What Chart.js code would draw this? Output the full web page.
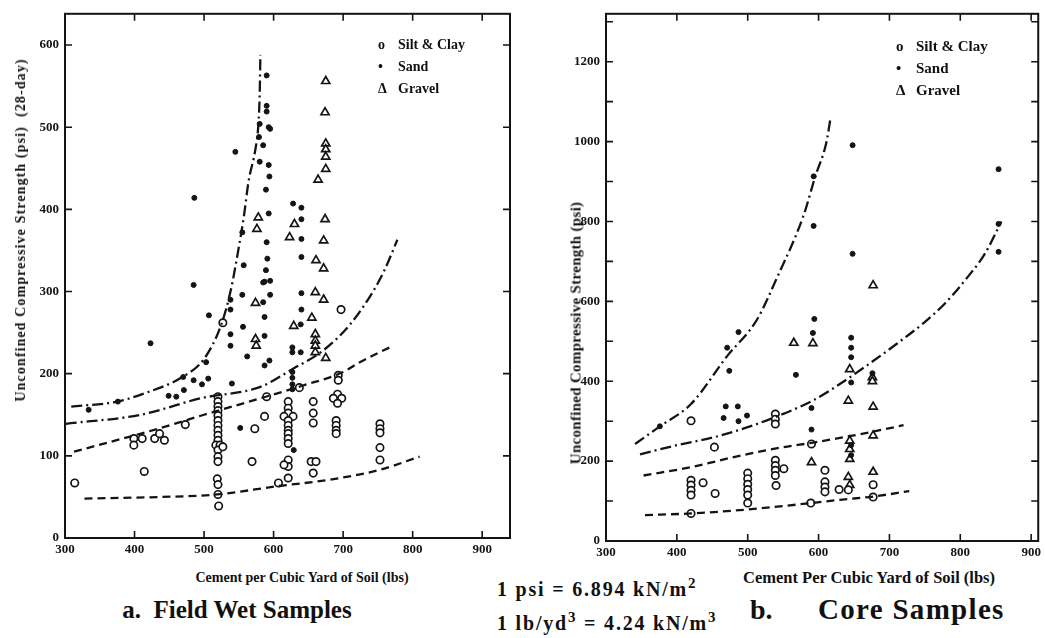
<!DOCTYPE html>
<html lang="en">
<head>
    <meta charset="UTF-8">
    <title>Unconfined Compressive Strength vs Cement Content</title>
    <script src="https://cdn.jsdelivr.net/npm/chart.js"></script>
    <style>
        body { margin: 0; background: #fff; width: 1045px; height: 638px; position: relative; overflow: hidden;
               font-family: "Liberation Serif", "DejaVu Serif", serif; font-weight: bold; color: #111; }
        canvas { position: absolute; top: 0; }
        .txt { position: absolute; white-space: nowrap; }
        .rot { transform: translate(-50%, -50%) rotate(-90deg); }
        .ctr { transform: translate(-50%, -50%); }
        .legend div { height: 22px; line-height: 22px; }
        .legend span.sym { display: inline-block; width: 20px; }
    </style>
</head>
<body>
    <canvas id="fieldChart" width="530" height="565" style="left:0"></canvas>
    <canvas id="coreChart" width="515" height="565" style="left:530px"></canvas>

    <div class="txt rot" style="left:21px; top:230px; font-size:14px; letter-spacing:1.1px">Unconfined Compressive Strength (psi)&nbsp;&nbsp;(28-day)</div>
    <div class="txt rot" style="left:576px; top:333px; font-size:15px; letter-spacing:0.3px">Unconfined Compressive Strength (psi)</div>
    <div class="txt ctr" style="left:302px; top:578px; font-size:14px">Cement per Cubic Yard of Soil (lbs)</div>
    <div class="txt ctr" style="left:869px; top:578px; font-size:16.5px">Cement Per Cubic Yard of Soil (lbs)</div>
    <div class="txt ctr" style="left:237px; top:610px; font-size:25px">a.&nbsp; Field Wet Samples</div>
    <div class="txt" style="left:750px; top:594px; font-size:28px">b.</div>
    <div class="txt" style="left:818px; top:593px; font-size:29px; letter-spacing:1.3px">Core Samples</div>
    <div class="txt" style="left:497px; top:575px; font-size:20px; letter-spacing:1.8px">1 psi = 6.894 kN/m<sup style="font-size:15px">2</sup></div>
    <div class="txt" style="left:497px; top:609px; font-size:20px; letter-spacing:1.8px">1 lb/yd<sup style="font-size:15px">3</sup> = 4.24 kN/m<sup style="font-size:15px">3</sup></div>

    <div class="txt legend" style="left:378px; top:34px; font-size:14px">
        <div><span class="sym">o</span>Silt &amp; Clay</div>
        <div><span class="sym">&bull;</span>Sand</div>
        <div><span class="sym">&Delta;</span>Gravel</div>
    </div>
    <div class="txt legend" style="left:896px; top:35px; font-size:15px">
        <div><span class="sym">o</span>Silt &amp; Clay</div>
        <div><span class="sym">&bull;</span>Sand</div>
        <div><span class="sym">&Delta;</span>Gravel</div>
    </div>

    <script>
        // ---- a. Field wet samples: [cement lbs, strength psi] ----
        const fieldSilt = [
            [314,67],[414,81],[399,121],[399,113],[411,121],[429,121],[436,127],[443,119],[473,138],
            [520,172],[520,166],[520,160],[520,155],[520,149],[520,143],[520,137],[520,131],[520,125],
            [520,119],[517,113],[523,113],[520,107],[520,99],[520,93],[519,72],[520,65],[520,53],[521,39],[527,111],
            [527,262],[573,133],[569,93],[587,148],[590,172],[607,67],
            [621,166],[621,158],[621,152],[615,148],[628,148],[621,143],[621,137],[621,131],[621,127],
            [621,121],[621,115],[621,95],[621,87],[615,89],[621,73],
            [637,183],[657,166],[657,152],[657,140],[654,93],[661,93],[657,79],
            [693,198],[693,192],[692,175],[686,170],[698,170],[692,164],[690,143],[690,137],[690,131],[690,127],[697,278],
            [753,139],[753,133],[753,128],[753,110],[753,95]
        ];
        const fieldSand = [
            [334,156],[376,166],[423,237],[449,173],[460,172],[470,196],[471,180],[485,192],[497,187],
            [485,308],[486,414],[503,214],[506,194],[507,271],[538,290],[538,278],[538,248],[538,234],[540,188],
            [545,470],[552,134],[555,372],[557,332],[555,296],[556,257],[562,221],
            [579,488],[580,504],[580,458],[585,478],[587,312],[585,311],[587,269],[587,246],[587,210],
            [590,563],[590,526],[590,519],[589,424],[590,360],[591,340],[589,326],[593,500],[593,395],
            [593,454],[594,440],[594,216],[595,498],[595,313],[595,296],[585,287],
            [627,202],[627,195],[627,187],[627,181],[629,107],[628,407],[640,402],[640,388],[640,364],
            [640,342],[640,298],[640,278],[639,260],[627,232],[639,226],[627,226]
        ];
        const fieldGravel = [
            [675,556],[674,518],[675,480],[675,473],[675,464],[675,449],[664,436],
            [578,390],[576,376],[630,382],[623,366],[674,388],[672,362],[661,338],[672,328],
            [574,286],[660,299],[672,290],[629,258],[655,268],[574,242],[575,234],
            [660,248],[660,240],[660,234],[660,226],[675,219]
        ];
        // fitted curves for panel a
        const fieldCurveA = [[309,160],[375,166],[414,176],[469,196],[500,218],[524,258],[538,300],[550,354],[557,390],[564,434],[574,474],[578,502],[580,540],[581,588]];
        const fieldCurveB = [[301,139],[409,150],[495,170],[581,184],[628,206],[671,228],[710,260],[743,300],[760,327],[778,363]];
        const fieldCurveC = [[313,105],[438,134],[500,150],[581,170],[640,185],[700,202],[724,214],[772,234]];
        const fieldCurveD = [[328,48],[440,50],[519,53],[605,63],[681,71],[753,83],[810,99]];

        // ---- b. Core samples ----
        const coreSilt = [
            [420,301],[453,235],[539,318],[539,305],[539,293],[590,243],
            [420,152],[420,140],[420,127],[420,115],[437,146],[454,119],[420,69],
            [500,170],[500,156],[500,142],[500,129],[500,115],[500,95],
            [539,202],[539,189],[539,177],[539,164],[551,181],[540,139],
            [589,95],[609,177],[609,148],[609,135],[609,123],[629,129],[642,128],
            [677,141],[677,110]
        ];
        const coreSand = [
            [376,287],[469,337],[486,337],[466,308],[487,300],[499,314],[471,484],[487,523],[474,426],
            [594,556],[592,521],[568,416],[590,333],[590,279],[593,913],[593,789],
            [648,991],[648,719],[646,509],[646,484],[646,460],[646,397],[646,240],[646,215],
            [676,420],[854,931],[854,794],[854,724]
        ];
        const coreGravel = [
            [565,496],[592,495],[590,197],[644,430],[676,410],[676,400],[642,351],[677,336],
            [677,264],[644,251],[644,230],[644,205],[642,160],[644,140],[677,173],[677,640]
        ];
        const coreCurveA = [[341,243],[376,287],[420,343],[471,463],[513,554],[541,658],[579,816],[595,911],[611,998],[617,1060]];
        const coreCurveB = [[348,217],[400,240],[453,260],[500,285],[537,309],[590,350],[630,393],[667,438],[709,492],[751,550],[779,596],[810,660],[835,720],[858,800]];
        const coreCurveC = [[353,164],[420,185],[490,214],[550,235],[588,245],[630,258],[680,275],[720,290]];
        const coreCurveD = [[355,65],[420,69],[500,79],[590,95],[630,103],[680,112],[728,125]];

        const xTicks = [300, 400, 500, 600, 700, 800, 900];
        const fieldYTicks = [0, 100, 200, 300, 400, 500, 600];
        const coreYTicks = [0, 200, 400, 600, 800, 1000, 1200];

        const ink = '#141414';
        const toXY = arr => arr.map(p => ({ x: p[0], y: p[1] }));

        // box frame with inward tick marks on all four sides
        const framePlugin = {
            id: 'frame',
            afterDraw(chart) {
                const { ctx, chartArea: a, scales: { x, y } } = chart;
                ctx.save();
                ctx.strokeStyle = ink;
                ctx.lineWidth = 2;
                ctx.strokeRect(a.left, a.top, a.right - a.left, a.bottom - a.top);
                ctx.lineWidth = 1.6;
                ctx.beginPath();
                x.ticks.forEach(t => {
                    const px = x.getPixelForValue(t.value);
                    if (px <= a.left + 2 || px >= a.right - 2) return;
                    ctx.moveTo(px, a.bottom); ctx.lineTo(px, a.bottom - 7);
                    ctx.moveTo(px, a.top); ctx.lineTo(px, a.top + 7);
                });
                y.ticks.forEach(t => {
                    const py = y.getPixelForValue(t.value);
                    if (py >= a.bottom - 2 || py <= a.top + 2) return;
                    ctx.moveTo(a.left, py); ctx.lineTo(a.left + 7, py);
                    ctx.moveTo(a.right, py); ctx.lineTo(a.right - 7, py);
                });
                ctx.stroke();
                ctx.restore();
            }
        };

        function curve(pts, dash) {
            return {
                type: 'line', data: toXY(pts), borderColor: ink, borderWidth: 2.3,
                borderDash: dash, pointRadius: 0, fill: false, cubicInterpolationMode: 'monotone'
            };
        }

        function makePanel(id, p) {
            const tickFont = { family: 'Liberation Serif', weight: 'bold', size: 13 };
            new Chart(document.getElementById(id), {
                type: 'scatter',
                data: {
                    datasets: [
                        curve(p.curves[0], [11, 4, 2, 4]),
                        curve(p.curves[1], [11, 4, 2, 4]),
                        curve(p.curves[2], [8, 5]),
                        curve(p.curves[3], [8, 5]),
                        { label: 'Silt & Clay', data: toXY(p.silt), pointStyle: 'circle', pointRadius: 3.7,
                          backgroundColor: '#fff', borderColor: ink, borderWidth: 1.7 },
                        { label: 'Sand', data: toXY(p.sand), pointStyle: 'circle', pointRadius: 2.5,
                          backgroundColor: ink, borderColor: ink, borderWidth: 1 },
                        { label: 'Gravel', data: toXY(p.gravel), pointStyle: 'triangle', pointRadius: 4.7,
                          backgroundColor: '#fff', borderColor: ink, borderWidth: 1.7 }
                    ]
                },
                options: {
                    responsive: false,
                    animation: false,
                    layout: { padding: p.padding },
                    plugins: { legend: { display: false }, tooltip: { enabled: false } },
                    scales: {
                        x: {
                            type: 'linear', min: p.xMin, max: p.xMax,
                            grid: { display: false, drawTicks: false },
                            border: { display: false },
                            afterBuildTicks: s => { s.ticks = xTicks.map(v => ({ value: v })); },
                            afterFit: s => { s.height = p.xHeight; },
                            ticks: { color: ink, font: tickFont, padding: 4, maxRotation: 0, autoSkip: false }
                        },
                        y: {
                            type: 'linear', min: 0, max: p.yMax,
                            grid: { display: false, drawTicks: false },
                            border: { display: false },
                            afterBuildTicks: s => { s.ticks = p.yTickVals.map(v => ({ value: v })); },
                            afterFit: s => { s.width = p.yWidth; },
                            ticks: {
                                color: ink, font: tickFont, padding: 6, autoSkip: false,
                                callback: v => p.yLabels.includes(v) ? String(v) : ''
                            }
                        }
                    }
                },
                plugins: [framePlugin]
            });
        }

        makePanel('fieldChart', {
            silt: fieldSilt, sand: fieldSand, gravel: fieldGravel,
            curves: [fieldCurveA, fieldCurveB, fieldCurveC, fieldCurveD],
            xMin: 300, xMax: 940, yMax: 638,
            yTickVals: fieldYTicks, yLabels: fieldYTicks,
            padding: { top: 7, right: 20, left: 0, bottom: 0 }, xHeight: 27, yWidth: 65
        });

        makePanel('coreChart', {
            silt: coreSilt, sand: coreSand, gravel: coreGravel,
            curves: [coreCurveA, coreCurveB, coreCurveC, coreCurveD],
            xMin: 300, xMax: 910, yMax: 1320,
            yTickVals: [0, 100, 200, 300, 400, 500, 600, 700, 800, 900, 1000, 1100, 1200, 1300],
            yLabels: coreYTicks,
            padding: { top: 10, right: 5, left: 0, bottom: 0 }, xHeight: 24, yWidth: 76
        });
    </script>
</body>
</html>
